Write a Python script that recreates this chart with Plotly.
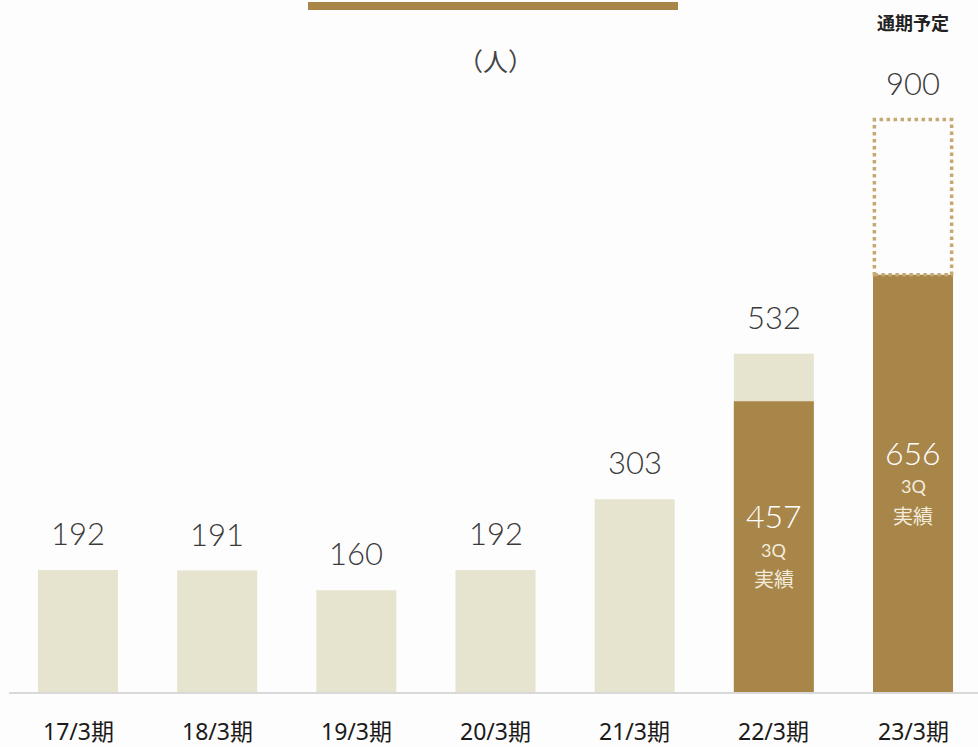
import plotly.graph_objects as go

categories = ["17/3期", "18/3期", "19/3期", "20/3期", "21/3期", "22/3期", "23/3期"]
totals = [192, 191, 160, 192, 303, 532, 900]
q3_actual = [None, None, None, None, None, 457, 656]
forecast_flag = [False, False, False, False, False, False, True]

LIGHT = "#e6e3cf"
DARK = "#a8864a"
DOT = "#c6a873"
BAR_W = 0.575

xs = list(range(len(categories)))

fig = go.Figure()

light_y = [t if not f else None for t, f in zip(totals, forecast_flag)]
fig.add_trace(go.Bar(x=xs, y=light_y, width=BAR_W, marker=dict(color=LIGHT, line=dict(width=0)),
                     hoverinfo="skip"))
fig.add_trace(go.Bar(x=xs, y=q3_actual, width=BAR_W, marker=dict(color=DARK, line=dict(width=0)),
                     hoverinfo="skip"))

fig.update_layout(barmode="overlay")

NUM_FONT = "Lato, Noto Sans"
annotations = []
shapes = []
for i, (c, t, q, f) in enumerate(zip(categories, totals, q3_actual, forecast_flag)):
    annotations.append(dict(x=i, y=t, xref="x", yref="y", text=str(t), showarrow=False,
                            yanchor="middle", yshift=37,
                            font=dict(family=NUM_FONT, size=31, color="#3a3a3a", weight=300)))
    annotations.append(dict(x=i, y=0, xref="x", yref="paper", text=c, showarrow=False,
                            yanchor="middle", yshift=-39,
                            font=dict(family="Noto Sans, Noto Sans CJK JP", size=23, color="#1a1a1a")))
    if q is not None:
        annotations.append(dict(x=i, y=q / 2, xref="x", yref="y", text=str(q), showarrow=False,
                                yanchor="middle", yshift=31,
                                font=dict(family=NUM_FONT, size=32, color="#ffffff", weight=300)))
        annotations.append(dict(x=i, y=q / 2, xref="x", yref="y", text="3Q", showarrow=False,
                                yanchor="middle", yshift=-3,
                                font=dict(family=NUM_FONT, size=18, color="#f3ecdc")))
        annotations.append(dict(x=i, y=q / 2, xref="x", yref="y", text="実績", showarrow=False,
                                yanchor="middle", yshift=-32,
                                font=dict(family="Noto Sans CJK JP", size=20, color="#f3ecdc")))
    if f and q is not None:
        shapes.append(dict(type="rect", xref="x", yref="y", x0=i - BAR_W / 2 + 0.01, x1=i + BAR_W / 2 - 0.01,
                           y0=q, y1=t, line=dict(color=DOT, width=3.5, dash="dot"),
                           fillcolor="rgba(0,0,0,0)"))
        annotations.append(dict(x=i, y=1, xref="x", yref="paper", text="通期予定", showarrow=False,
                                yanchor="middle", yshift=-22,
                                font=dict(family="Noto Sans CJK JP", size=18, color="#222222", weight="bold")))

annotations.append(dict(x=(495 - 9) / 969, y=1, xref="paper", yref="paper", text="（人）", showarrow=False,
                        yanchor="middle", yshift=-60,
                        font=dict(family="Noto Sans CJK JP", size=25, color="#444444")))

shapes.append(dict(type="rect", xref="paper", yref="paper",
                   x0=(308 - 9) / 969, x1=(678 - 9) / 969,
                   y0=1 - 10 / 692, y1=1 - 2 / 692,
                   fillcolor=DARK, line=dict(width=0)))

fig.update_layout(
    width=978, height=747,
    margin=dict(l=9, r=0, t=0, b=55),
    paper_bgcolor="#fdfdfd", plot_bgcolor="#fdfdfd",
    showlegend=False,
    annotations=annotations, shapes=shapes,
    xaxis=dict(range=[-0.4958, 6.467], showticklabels=False, showgrid=False, zeroline=False,
               showline=True, linecolor="#d9d9d9", linewidth=2, ticks=""),
    yaxis=dict(range=[0, 1088], visible=False, showgrid=False, zeroline=False),
)

fig.write_html("out.html", config={"displayModeBar": False},
               post_script="document.body.style.margin='0';document.body.style.background='#fdfdfd';")
